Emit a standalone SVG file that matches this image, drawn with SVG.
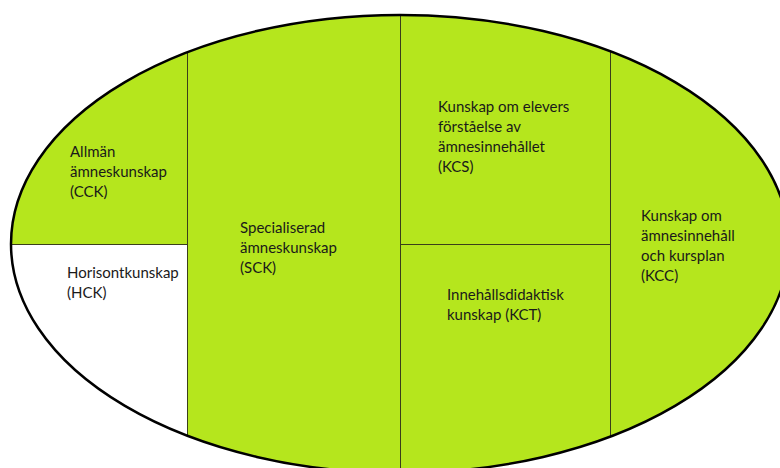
<svg xmlns="http://www.w3.org/2000/svg" width="780" height="468" viewBox="0 0 780 468">
<style>
.t{font-family:Lato,"Open Sans","Liberation Sans",sans-serif;font-size:15px;fill:#1a1a1a}
.div{stroke:#3a3f1a;stroke-width:1;fill:none}
</style>
<defs>
<clipPath id="clipE"><ellipse cx="400" cy="244" rx="389" ry="229"/></clipPath>
</defs>
<rect width="780" height="468" fill="#ffffff"/>
<ellipse cx="400" cy="244" rx="389" ry="229" fill="#b5e61d"/>
<g clip-path="url(#clipE)">
<rect id="hck-area" x="0" y="244" width="187" height="240" fill="#ffffff"/>
</g>
<g id="connectors" clip-path="url(#clipE)">
<line class="div" x1="187.5" y1="0" x2="187.5" y2="468"/>
<line class="div" x1="400.5" y1="0" x2="400.5" y2="468"/>
<line class="div" x1="610.5" y1="0" x2="610.5" y2="468"/>
<line class="div" x1="0" y1="244.5" x2="187.5" y2="244.5"/>
<line class="div" x1="400.5" y1="244.5" x2="610.5" y2="244.5"/>
</g>
<ellipse cx="400" cy="244" rx="389" ry="229" fill="none" stroke="#000" stroke-width="2.5"/>
<g id="cck"><text class="t" x="70" y="157">Allmän</text><text class="t" x="70" y="177">ämneskunskap</text><text class="t" x="70" y="197">(CCK)</text></g>
<g id="hck"><text class="t" x="67" y="278">Horisontkunskap</text><text class="t" x="67" y="298">(HCK)</text></g>
<g id="sck"><text class="t" x="240" y="233">Specialiserad</text><text class="t" x="240" y="253">ämneskunskap</text><text class="t" x="240" y="273">(SCK)</text></g>
<g id="kcs"><text class="t" x="438" y="112">Kunskap om elevers</text><text class="t" x="438" y="132">förståelse av</text><text class="t" x="438" y="152">ämnesinnehållet</text><text class="t" x="438" y="172">(KCS)</text></g>
<g id="kct"><text class="t" x="447" y="300">Innehållsdidaktisk</text><text class="t" x="447" y="320">kunskap (KCT)</text></g>
<g id="kcc"><text class="t" x="641" y="221">Kunskap om</text><text class="t" x="641" y="241">ämnesinnehåll</text><text class="t" x="641" y="261">och kursplan</text><text class="t" x="641" y="281">(KCC)</text></g>
</svg>
